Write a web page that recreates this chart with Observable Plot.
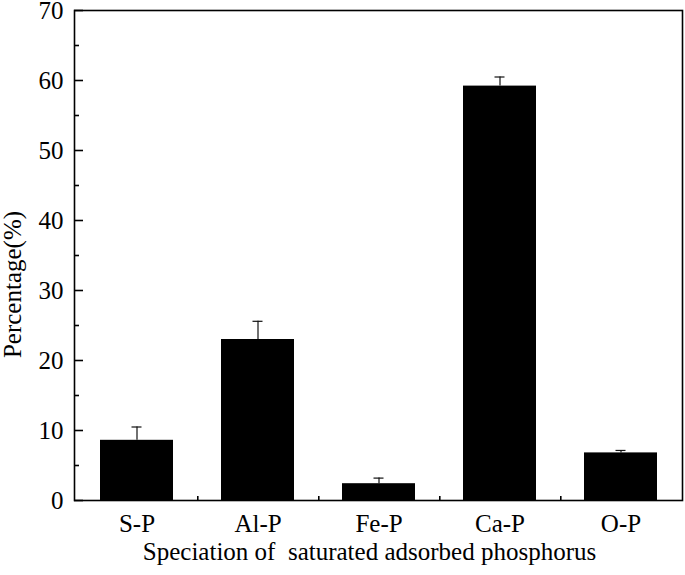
<!DOCTYPE html>
<html>
<head>
<meta charset="utf-8">
<script src="https://cdn.jsdelivr.net/npm/d3@7"></script>
<script src="https://cdn.jsdelivr.net/npm/@observablehq/plot@0.6"></script>
<style>
  html, body { margin: 0; padding: 0; background: #fff; }
  #chart { width: 685px; height: 575px; }
</style>
</head>
<body>
<div id="chart"></div>
<script>
const categories = ["S-P", "Al-P", "Fe-P", "Ca-P", "O-P"];
const values = [8.6, 23.0, 2.4, 59.2, 6.8];
const errors = [1.9, 2.6, 0.8, 1.3, 0.35];
const majorTicks = [0, 10, 20, 30, 40, 50, 60, 70];
const minorTicks = [5, 15, 25, 35, 45, 55, 65];
const xLabel = "Speciation of  saturated adsorbed phosphorus";
const yLabel = "Percentage(%)";

const data = categories.map((c, i) => ({cat: c, value: values[i], top: values[i] + errors[i]}));

const W = 685, H = 575;
const mL = 74, mR = 3, mT = 10, mB = 75;
const frameW = W - mL - mR, frameH = H - mT - mB;
const step = frameW / categories.length;

const chart = Plot.plot({
  width: W,
  height: H,
  marginLeft: mL,
  marginRight: mR,
  marginTop: mT,
  marginBottom: mB,
  style: "font-family: 'Liberation Serif'; font-size: 25px; color: #000; background: #fff; overflow: visible;",
  x: {domain: categories, paddingInner: 0.4, paddingOuter: 0.2},
  y: {domain: [0, 70]},
  marks: [
    Plot.barY(data, {x: "cat", y: "value", fill: "#000"}),
    Plot.ruleX(data, {x: "cat", y1: "value", y2: "top", stroke: "#111", strokeWidth: 1.2}),
    Plot.tickY(data, {x: "cat", y: "top", stroke: "#111", strokeWidth: 1.2, insetLeft: 31.5, insetRight: 31.5}),
    Plot.tickY(majorTicks, {y: d => d, stroke: "#000", strokeWidth: 1.6, insetRight: frameW - 9}),
    Plot.tickY(minorTicks, {y: d => d, stroke: "#000", strokeWidth: 1.6, insetRight: frameW - 5}),
    Plot.tickX(categories.slice(0, -1), {x: d => d, dx: step / 2, stroke: "#000", strokeWidth: 1.6, insetTop: frameH - 4}),
    Plot.axisX({tickSize: 0, tickPadding: 14, fontSize: 25, label: null}),
    Plot.axisY({ticks: majorTicks, tickSize: 0, tickPadding: 11, fontSize: 25, label: null}),
    Plot.frame({stroke: "#000", strokeWidth: 1.6}),
    Plot.text([xLabel], {text: d => d, frameAnchor: "bottom", textAnchor: "middle", lineAnchor: "bottom", dy: 59, dx: -9, fontSize: 25, fill: "#000"}),
    Plot.text([yLabel], {text: d => d, frameAnchor: "left", textAnchor: "middle", lineAnchor: "bottom", rotate: -90, dx: -54, dy: 29, fontSize: 25, fill: "#000"})
  ]
});
document.getElementById("chart").appendChild(chart);
</script>
</body>
</html>
